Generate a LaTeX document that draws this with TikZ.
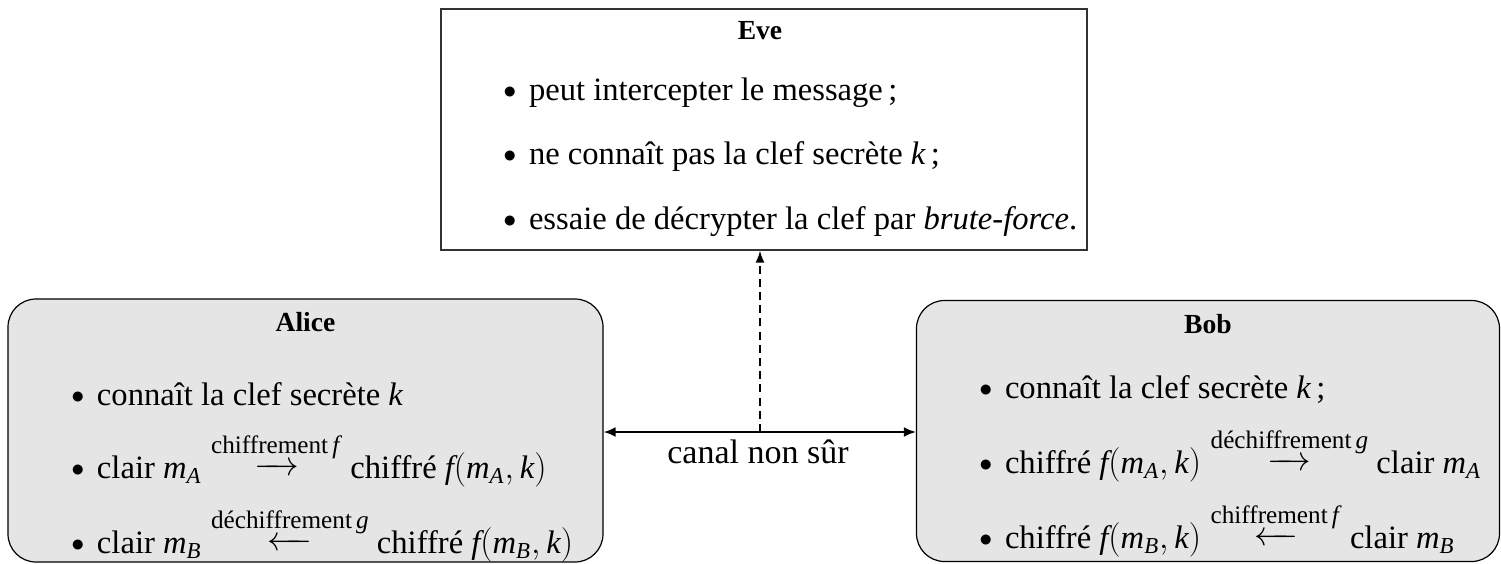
\documentclass[tikz,border=0pt]{standalone}
\usepackage{amsmath}
\usepackage{graphicx}
\usepackage{fontspec}
\setmainfont{Liberation Serif}
\usetikzlibrary{arrows.meta}
\newcommand{\itm}[1]{\makebox[12.8pt][l]{\raisebox{0.7pt}{\scalebox{0.75}{$\bullet$}}}#1}
\newcommand{\mv}[1]{\mathit{#1}}
\newcommand{\lbl}[1]{\text{\fontsize{12.6}{14}\selectfont #1}}
\newcommand{\ra}{\mbox{\raisebox{1.5pt}{\makebox[22pt]{\rightarrowfill}}}}
\newcommand{\la}{\mbox{\raisebox{1.5pt}{\makebox[22pt]{\leftarrowfill}}}}
\newcommand{\fmk}[1]{\mv{f}\mathrm{(}\mv{m}_{\mv{#1}}\mathrm{,}\,\mv{k}\mathrm{)}}
\tikzset{
  txt/.style={font=\fontsize{16.3}{19}\selectfont, inner sep=0pt, anchor=base west},
  ttl/.style={font=\fontsize{13.8}{16}\selectfont\bfseries, inner sep=0pt, anchor=base},
  evebox/.style={draw=black!80, line width=0.6pt, inner sep=0pt},
  agentbox/.style={draw=black, fill=black!10, line width=0.6pt, rounded corners=14pt, inner sep=0pt},
  link/.style={line width=1.1pt, {Latex[length=6pt,width=5pt]}-{Latex[length=6pt,width=5pt]}},
  spy/.style={line width=0.9pt, dash pattern=on 4pt off 2.6pt, -{Latex[length=6pt,width=4.5pt]}}
}
\begin{document}
\begin{tikzpicture}[x=0.5pt,y=-0.5pt]
\useasboundingbox (0,0) rectangle (1501,563);
% boxes
\node[evebox, minimum width=323pt, minimum height=120.5pt] (eve) at (764,129.5) {};
\node[agentbox, minimum width=297.5pt, minimum height=131.5pt] (alice) at (305.5,430.5) {};
\node[agentbox, minimum width=291.5pt, minimum height=130.5pt] (bob) at (1208,431) {};
% Eve text
\node[ttl] (evet) at (760,39) {Eve};
\node[txt] (e1) at (503,100) {\itm{peut intercepter le message\,;}};
\node[txt] (e2) at (503,164) {\itm{ne connaît pas la clef secrète $\mv{k}$\,;}};
\node[txt] (e3) at (503,229) {\itm{essaie de décrypter la clef par \emph{brute-force}.}};
% Alice text
\node[ttl] (alicet) at (305.5,331) {Alice};
\node[txt] (a1) at (71,405) {\itm{connaît la clef secrète $\mv{k}$}};
\node[txt] (a2) at (71,478) {\itm{clair $\mv{m}_{\mv{A}} \stackrel{\lbl{chiffrement\,\textit{f}}}{\ra}$ chiffré $\fmk{A}$}};
\node[txt] (a3) at (71,553) {\itm{clair $\mv{m}_{\mv{B}} \stackrel{\lbl{déchiffrement\,\textit{g}}}{\la}$ chiffré $\fmk{B}$}};
% Bob text
\node[ttl] (bobt) at (1208,333) {Bob};
\node[txt] (b1) at (979,398) {\itm{connaît la clef secrète $\mv{k}$\,;}};
\node[txt] (b2) at (979,473) {\itm{chiffré $\fmk{A} \stackrel{\lbl{déchiffrement\,\textit{g}}}{\ra}$ clair $\mv{m}_{\mv{A}}$}};
\node[txt] (b3) at (979,548) {\itm{chiffré $\fmk{B} \stackrel{\lbl{chiffrement\,\textit{f}}}{\la}$ clair $\mv{m}_{\mv{B}}$}};
% channel
\coordinate (ch) at (760,432);
\draw[link] (alice.east |- ch) -- (bob.west |- ch);
\node[txt, font=\fontsize{17}{20}\selectfont, anchor=base] (canal) at (758,463) {canal non sûr};
\draw[spy] (ch) -- (ch |- eve.south);
\end{tikzpicture}
\end{document}
